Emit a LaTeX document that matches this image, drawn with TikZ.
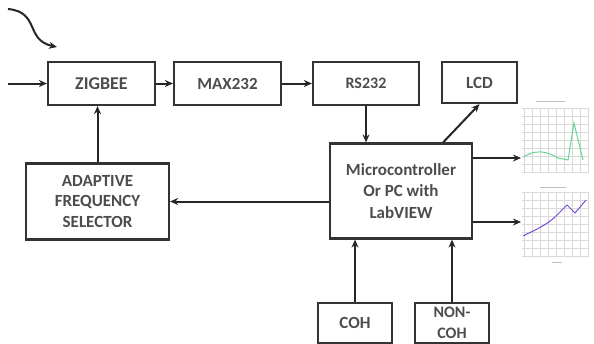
\documentclass[tikz,border=0pt]{standalone}
\usepackage{fontspec}
\setmainfont{Carlito}
\usetikzlibrary{arrows.meta}
\begin{document}
\begin{tikzpicture}[x=1pt,y=-1pt,
  blk/.style={draw=black!80,line width=2.2pt,minimum height=43pt,font=\bfseries\fontsize{17}{20}\selectfont,text=black!70,align=center,inner sep=0pt},
  conn/.style={draw=black!85,line width=2pt,-{Stealth[length=8pt,width=7pt]}},
  gridl/.style={draw=black!15,line width=0.4pt}]
\useasboundingbox (0,0) rectangle (594,343);
\node[blk,minimum width=107pt,font=\fontsize{18}{20}\selectfont\bfseries] (zig) at (101.5,83.5) {ZIGBEE};
\node[blk,minimum width=107pt] (max) at (227.5,83.5) {MAX232};
\node[blk,minimum width=106pt,font=\fontsize{16}{20}\selectfont\bfseries] (rs) at (366,83.5) {RS232};
\node[blk,minimum width=75pt,minimum height=41pt] (lcd) at (479.5,82.5) {LCD};
\node[blk,minimum width=142pt,minimum height=95pt,font=\bfseries\fontsize{17}{21.5}\selectfont] (mc) at (401,191) {Microcontroller\\Or PC with\\LabVIEW};
\node[blk,minimum width=143pt,minimum height=76pt,font=\bfseries\fontsize{17}{20.5}\selectfont] (afs) at (97.5,201.5) {ADAPTIVE\\FREQUENCY\\SELECTOR};
\node[blk,minimum width=74pt,minimum height=40pt] (coh) at (355,323) {COH};
\node[blk,minimum width=74pt,minimum height=40pt,font=\bfseries\fontsize{16}{21}\selectfont] (ncoh) at (452,323) {NON-\\COH};
% graphs
\coordinate (g1) at (521,158);
\coordinate (g2) at (521,222);
\begin{scope}
\foreach \x in {524,532,...,588} \draw[gridl] (\x,108) -- (\x,172);
\foreach \y in {108,116,...,172} \draw[gridl] (522,\y) -- (589,\y);
\draw[black!25,line width=0.5pt] (536,101) -- (565,101);
\draw[green!45!teal!60,line width=1pt] (523,157) .. controls (535,150) and (545,150) .. (558,158) -- (568,160) -- (574,123) -- (583,160);
\end{scope}
\begin{scope}
\foreach \x in {524,532,...,588} \draw[gridl] (\x,192) -- (\x,256);
\foreach \y in {192,200,...,256} \draw[gridl] (522,\y) -- (589,\y);
\draw[black!25,line width=0.5pt] (540,187) -- (566,187);
\draw[black!25,line width=0.5pt] (552,262) -- (562,262);
\draw[blue!50!violet!70,line width=1pt] (523,236) .. controls (535,230) and (545,226) .. (555,217) -- (567,205) -- (575,213) -- (586,200);
\end{scope}
% connectors
\coordinate (in) at (8,83.5);
\draw[conn] (in) -- (zig.west);
\coordinate (cs) at (8,9);
\coordinate (ce) at (57,47);
\draw[conn] (cs) .. controls (40,12) and (25,40) .. (ce);
\draw[conn] (zig) -- (max);
\draw[conn] (max) -- (rs);
\draw[conn] (rs.south) -- (mc.north -| rs.south);
\draw[conn] (mc.north east) ++(-30,0) coordinate (lf) (lf) -- (lcd.south);
\draw[conn] (mc.east |- g1) -- (g1);
\draw[conn] (mc.east |- g2) -- (g2);
\draw[conn] (mc.west |- afs) -- (afs.east);
\draw[conn] (afs.north) -- (zig.south -| afs.north);
\draw[conn] (coh.north) -- (mc.south -| coh.north);
\draw[conn] (ncoh.north) -- (mc.south -| ncoh.north);
\end{tikzpicture}
\end{document}
